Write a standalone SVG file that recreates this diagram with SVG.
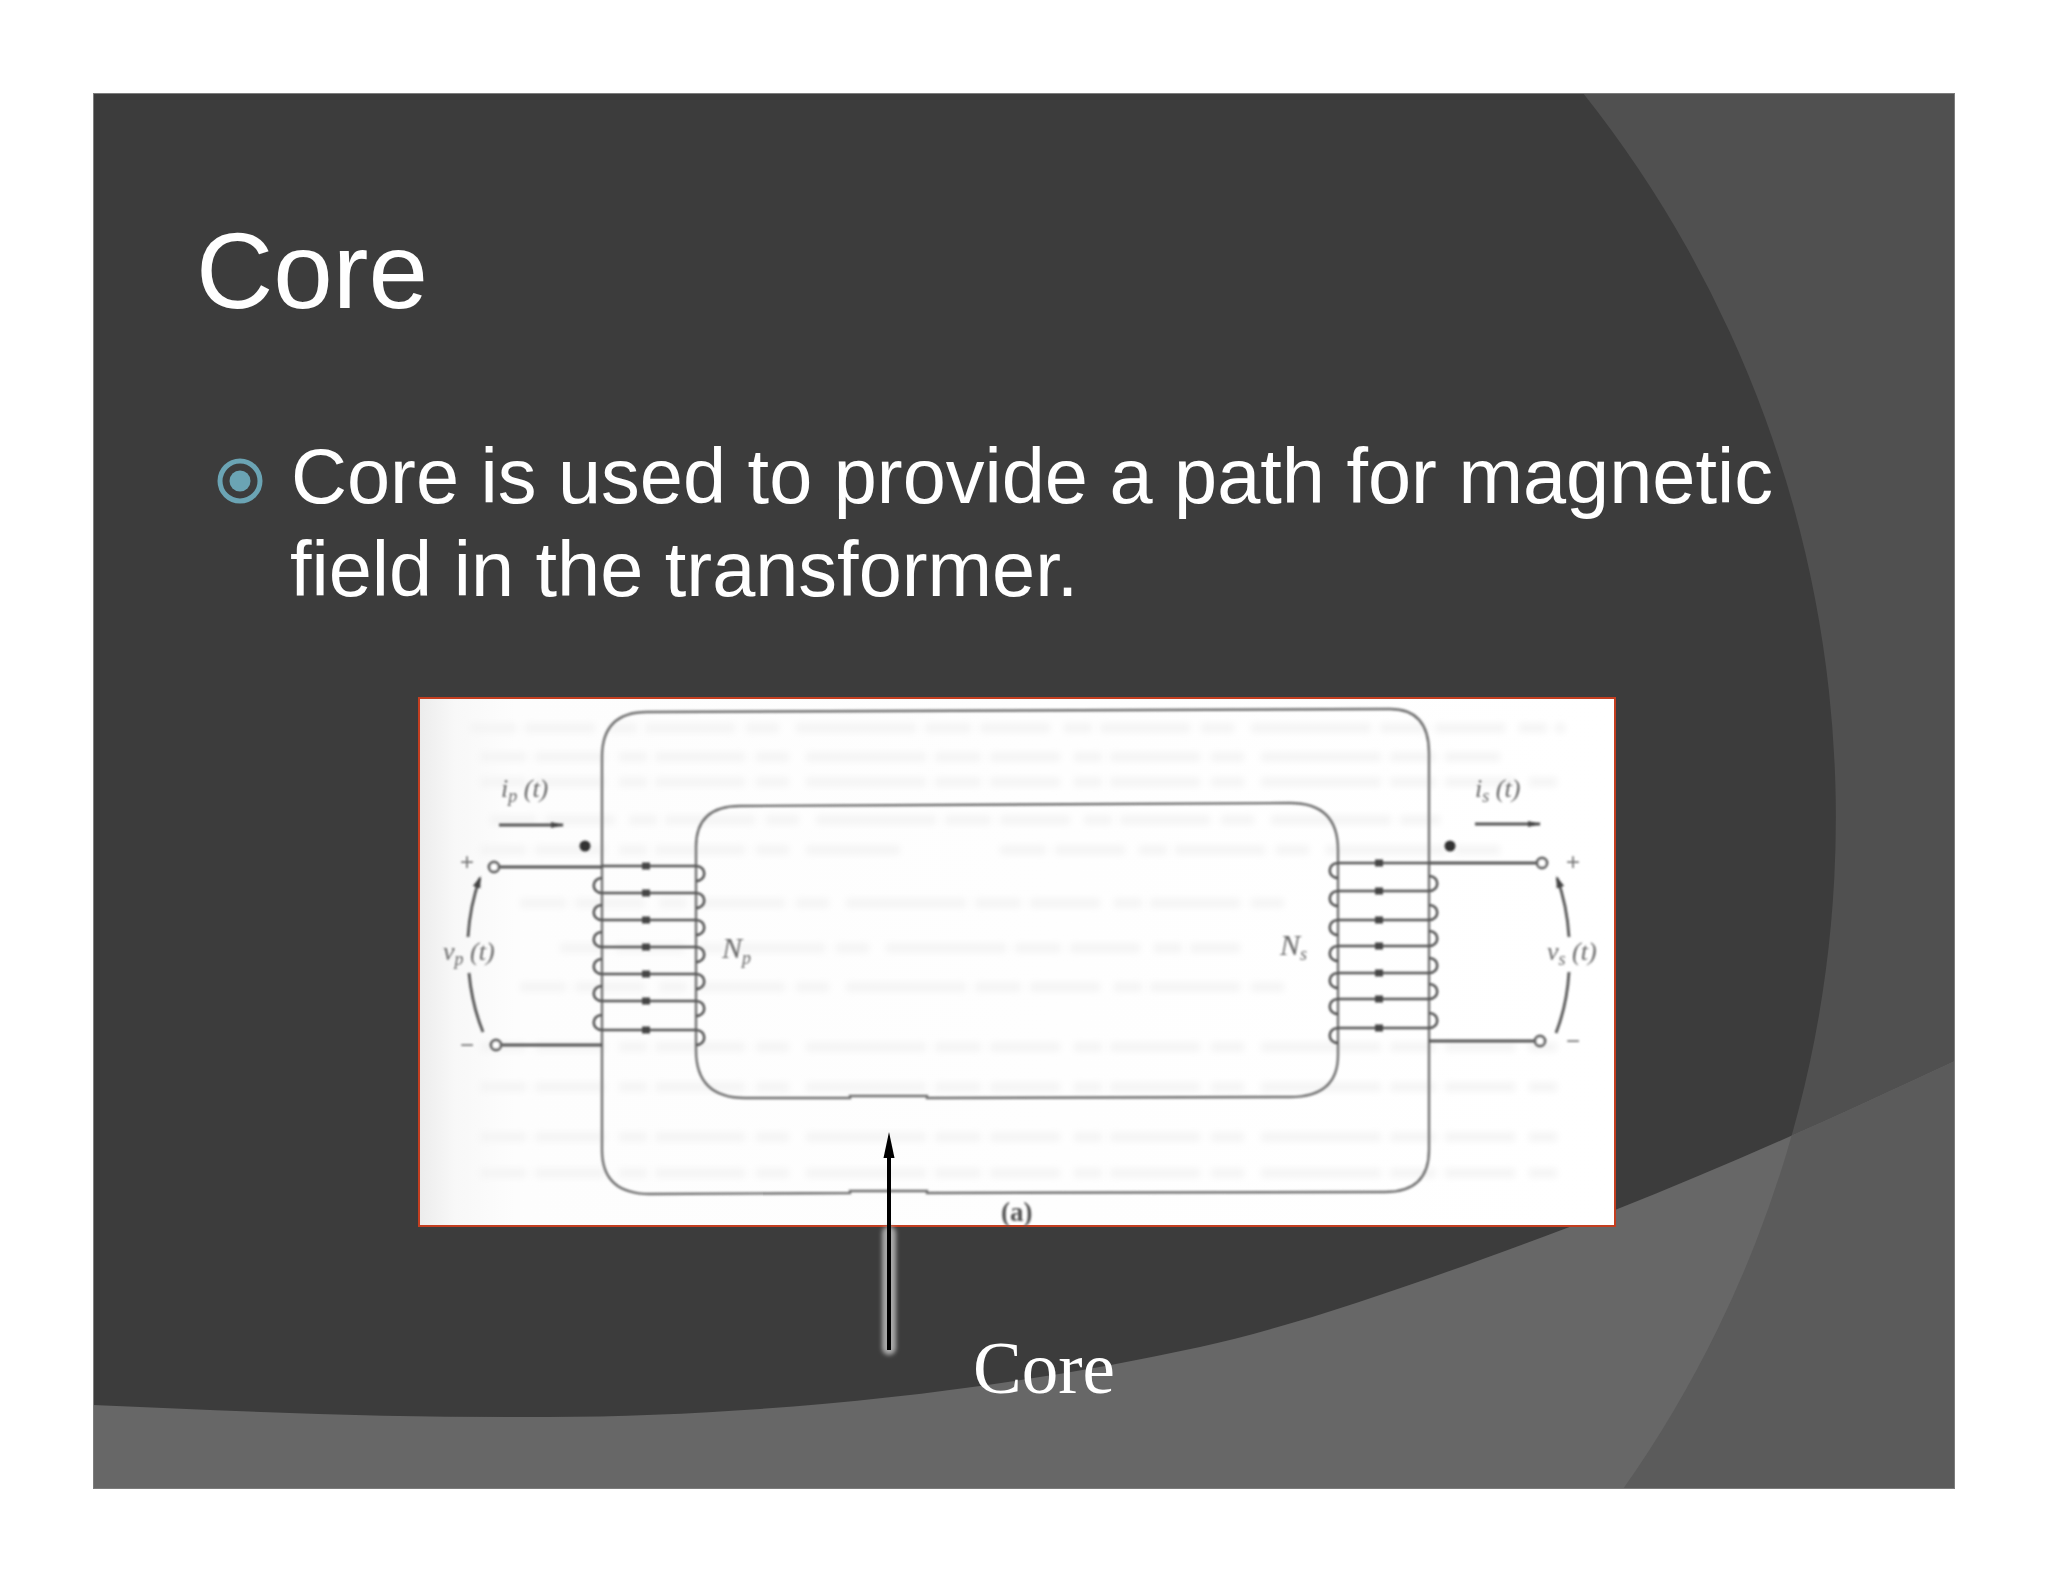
<svg xmlns="http://www.w3.org/2000/svg" xmlns:xlink="http://www.w3.org/1999/xlink" width="2048" height="1582" viewBox="0 0 2048 1582">
<style>
.sans{font-family:"Liberation Sans",Arial,sans-serif;fill:#fff}
.ser{font-family:"Liberation Serif","Times New Roman",serif}
.lab{font-family:"Liberation Serif","Times New Roman",serif;font-style:italic;fill:#666;font-size:26px}
.sub{font-size:18px}
.ln{fill:none;stroke:#707070;stroke-width:2.4}
.wire{fill:none;stroke:#555;stroke-width:2.8}
.loop{fill:none;stroke:#555;stroke-width:2.6}
.term{fill:#fff;stroke:#666;stroke-width:3}
.ghost{fill:none;stroke:#f4f4f4;stroke-width:9;stroke-dasharray:46 9 70 14 28 8 90 11 33 17 120 9}
.sign{font-family:"Liberation Sans",Arial,sans-serif;fill:#777;font-size:24px;text-anchor:middle}
</style>
<defs>
<clipPath id="bandClip"><path d="M93,1405C250,1412 400,1418 548,1417C750,1416 980,1395 1200,1347C1310,1323 1450,1272 1615,1210C1730,1165 1850,1110 1955,1061V1489H93Z"/></clipPath>
<linearGradient id="scanShade" x1="0" x2="1" y1="0" y2="0">
<stop offset="0" stop-color="#ececec"/><stop offset="0.03" stop-color="#f8f8f8"/><stop offset="0.08" stop-color="#fdfdfd"/><stop offset="1" stop-color="#fff"/>
</linearGradient>
<filter id="soft" x="-5%" y="-5%" width="110%" height="110%"><feGaussianBlur stdDeviation="0.8"/></filter>
<filter id="blurGhost" x="-5%" y="-5%" width="110%" height="110%"><feGaussianBlur stdDeviation="3.5"/></filter>
<filter id="glow" x="-100%" y="-10%" width="300%" height="120%"><feGaussianBlur stdDeviation="2"/></filter>
<path id="turnP" d="M602,0H696M696,0c11,0 11,15 0,15M602,0c-11,0 -11,-15 0,-15" class="loop"/>
<path id="turnS" d="M1338,0H1429M1338,0c-11,0 -11,15 0,15M1429,0c11,0 11,-15 0,-15" class="loop"/>
<rect id="mark" x="-4" y="-3.500" width="8" height="7" fill="#444"/>
<marker id="headSmall" markerWidth="14" markerHeight="8" refX="12" refY="4" orient="auto" markerUnits="userSpaceOnUse"><path d="M0,1L13,4L0,7Z" fill="#444"/></marker>
<marker id="headV" markerWidth="14" markerHeight="10" refX="10" refY="5" orient="auto" markerUnits="userSpaceOnUse"><path d="M0,1L12,5L0,9Z" fill="#444"/></marker>
</defs>

<rect width="2048" height="1582" fill="#fff"/>
<g id="background">
<rect x="93" y="93" width="1862" height="1396" fill="#3c3c3c"/>
<path id="bg-right" d="M1583,93A1165,1165 0 0 1 1623,1489H1955V93Z" fill="#505050"/>
<path d="M93,1405C250,1412 400,1418 548,1417C750,1416 980,1395 1200,1347C1310,1323 1450,1272 1615,1210C1730,1165 1850,1110 1955,1061V1489H93Z" fill="#676767"/>
<path d="M1583,93A1165,1165 0 0 1 1623,1489H1955V93Z" fill="#5b5b5b" clip-path="url(#bandClip)"/>
<rect x="93.500" y="93.500" width="1861" height="1395" fill="none" stroke="#7c7c7c" stroke-width="1"/>
</g>

<text id="title" class="sans" x="196" y="308" font-size="107">Core</text>
<g id="bullet"><circle cx="240" cy="481" r="20" fill="none" stroke="#6ba4b4" stroke-width="5"/><circle cx="240" cy="481" r="10.500" fill="#6ba4b4"/></g>
<text id="body1" class="sans" x="291" y="503" font-size="77.500">Core is used to provide a path for magnetic</text>
<text id="body2" class="sans" x="290" y="596" font-size="77.500">field in the transformer.</text>

<g id="figure">
<rect x="419" y="698" width="1196" height="528" fill="url(#scanShade)" stroke="#c43e20" stroke-width="2"/>
<g id="bleed-through" filter="url(#blurGhost)">
<path class="ghost" d="M470,728H1565M480,757H1500M480,782H1565M490,820H1440M480,850H900M1000,850H1500M520,903H1300M560,948H1240M520,987H1300M480,1047H1565M480,1087H1565M480,1137H1565M480,1173H1565"/>
</g>
<g filter="url(#soft)">
<g id="core">
<path class="ln" d="M602,1150V757Q602,712 647,712L1390,709Q1429,709 1429,753V1150Q1429,1192 1385,1192L927,1193L927,1191H850V1193L650,1194Q602,1194 602,1150Z"/>
<path class="ln" d="M696,1050V847Q696,806 740,806L1290,803Q1338,803 1338,850V1055Q1338,1097 1290,1097L927,1098V1096H850V1098H745Q696,1098 696,1050Z"/>
</g>
<g id="primary-winding">
<path class="loop" d="M602,866H696M696,866c11,0 11,15 0,15"/>
<use xlink:href="#turnP" href="#turnP" y="893"/><use xlink:href="#turnP" href="#turnP" y="920"/><use xlink:href="#turnP" href="#turnP" y="947"/><use xlink:href="#turnP" href="#turnP" y="974"/><use xlink:href="#turnP" href="#turnP" y="1001"/><use xlink:href="#turnP" href="#turnP" y="1030"/>
<use xlink:href="#mark" href="#mark" x="646" y="866"/><use xlink:href="#mark" href="#mark" x="646" y="893"/><use xlink:href="#mark" href="#mark" x="646" y="920"/><use xlink:href="#mark" href="#mark" x="646" y="947"/><use xlink:href="#mark" href="#mark" x="646" y="974"/><use xlink:href="#mark" href="#mark" x="646" y="1001"/><use xlink:href="#mark" href="#mark" x="646" y="1030"/>
</g>
<g id="secondary-winding">
<path class="loop" d="M1338,863H1429M1338,863c-11,0 -11,15 0,15"/>
<use xlink:href="#turnS" href="#turnS" y="891"/><use xlink:href="#turnS" href="#turnS" y="920"/><use xlink:href="#turnS" href="#turnS" y="946"/><use xlink:href="#turnS" href="#turnS" y="973"/><use xlink:href="#turnS" href="#turnS" y="999"/><use xlink:href="#turnS" href="#turnS" y="1028"/>
<use xlink:href="#mark" href="#mark" x="1379" y="863"/><use xlink:href="#mark" href="#mark" x="1379" y="891"/><use xlink:href="#mark" href="#mark" x="1379" y="920"/><use xlink:href="#mark" href="#mark" x="1379" y="946"/><use xlink:href="#mark" href="#mark" x="1379" y="973"/><use xlink:href="#mark" href="#mark" x="1379" y="999"/><use xlink:href="#mark" href="#mark" x="1379" y="1028"/>
</g>
<g id="connectors">
<path class="wire" d="M499,867H602M501,1045H602M1429,863H1537M1429,1041H1535"/>
<path class="wire" d="M499,825H563" marker-end="url(#headSmall)"/>
<path class="wire" d="M1475,824H1540" marker-end="url(#headSmall)"/>
<path class="wire" d="M468,937Q470,905 480,878" marker-end="url(#headV)"/>
<path class="wire" d="M469,973Q472,1005 483,1032"/>
<path class="wire" d="M1569,937Q1567,905 1557,878" marker-end="url(#headV)"/>
<path class="wire" d="M1569,972Q1567,1005 1556,1033"/>
</g>
<g id="terminal-p-plus"><circle class="term" cx="494" cy="867" r="5"/></g>
<g id="terminal-p-minus"><circle class="term" cx="496" cy="1045" r="5"/></g>
<g id="terminal-s-plus"><circle class="term" cx="1542" cy="863" r="5"/></g>
<g id="terminal-s-minus"><circle class="term" cx="1540" cy="1041" r="5"/></g>
<circle id="dot-p" cx="585" cy="846" r="5.500" fill="#333"/>
<circle id="dot-s" cx="1450" cy="846" r="5.500" fill="#333"/>
<text class="sign" x="467" y="870">+</text>
<text class="sign" x="467" y="1053">−</text>
<text class="sign" x="1573" y="870">+</text>
<text class="sign" x="1573" y="1049">−</text>
<text class="lab" x="501" y="797">i<tspan class="sub" dy="5">p</tspan><tspan dy="-5"> (t)</tspan></text>
<text class="lab" x="1475" y="797">i<tspan class="sub" dy="5">s</tspan><tspan dy="-5"> (t)</tspan></text>
<text class="lab" x="443" y="960">v<tspan class="sub" dy="5">p</tspan><tspan dy="-5"> (t)</tspan></text>
<text class="lab" x="1547" y="960">v<tspan class="sub" dy="5">s</tspan><tspan dy="-5"> (t)</tspan></text>
<text class="lab" x="722" y="958" style="font-size:30px">N<tspan class="sub" dy="6">p</tspan></text>
<text class="lab" x="1280" y="955" style="font-size:30px">N<tspan class="sub" dy="5">s</tspan></text>
<text class="ser" x="1001" y="1221" font-size="27" font-weight="bold" fill="#555">(a)</text>
</g>
</g>

<g id="callout">
<rect x="882" y="1226" width="14" height="129" rx="7" fill="#a8a8a8" filter="url(#glow)"/>
<path d="M889,1350V1155" stroke="#000" stroke-width="4" fill="none"/>
<path d="M889,1132L894.500,1158H883.500Z" fill="#000"/>
<text id="core-label" class="ser" x="973" y="1393" font-size="73" fill="#fff">Core</text>
</g>
</svg>
